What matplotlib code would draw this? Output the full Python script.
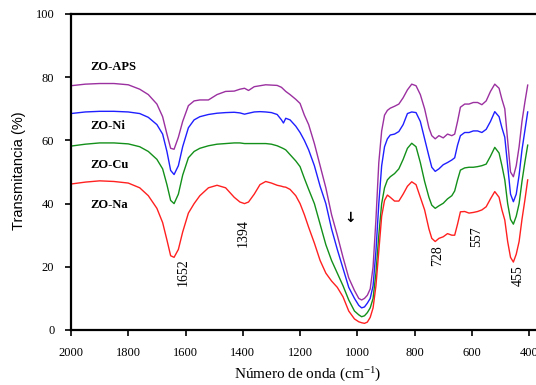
"""FTIR spectra of ZO samples (ZO-APS, ZO-Ni, ZO-Cu, ZO-Na)."""
import matplotlib
matplotlib.use('Agg')
import matplotlib.pyplot as plt

plt.rcParams['mathtext.fontset'] = 'custom'
plt.rcParams['mathtext.rm'] = 'Liberation Serif'
plt.rcParams['mathtext.it'] = 'Liberation Serif:italic'

# wavenumber grid (cm-1), shared by all four spectra
wn = [2000, 1950, 1900, 1850, 1800, 1760, 1730, 1700, 1680, 1665, 1652, 1640, 1625, 1610,
      1590, 1570, 1550, 1520, 1490, 1460, 1430, 1410, 1394, 1380, 1360, 1340, 1320, 1300,
      1280, 1265, 1258, 1250, 1235, 1215, 1200, 1185, 1170, 1150, 1130, 1110, 1090, 1070,
      1050, 1030, 1010, 995, 985, 975, 965, 955, 945, 935, 925, 915, 905, 895, 885, 870,
      855, 840, 825, 810, 795, 780, 765, 750, 740, 728, 715, 700, 685, 670, 660, 650,
      640, 625, 610, 595, 580, 565, 550, 535, 520, 505, 495, 485, 475, 465, 455, 445,
      435, 425, 415, 405]

zo_aps = [77.3, 77.8, 78.0, 78.0, 77.6, 76.2, 74.5, 71.5, 67.5, 62.0, 57.5, 57.2, 61.0, 66.0,
          71.0, 72.5, 72.8, 72.8, 74.5, 75.5, 75.6, 76.2, 76.5, 75.8, 77.0, 77.3, 77.6, 77.5,
          77.4, 76.8, 76.2, 75.5, 74.5, 73.0, 71.7, 68.0, 65.0, 59.0, 52.0, 45.0, 36.5, 30.0,
          23.0, 16.5, 12.5, 10.0, 9.5, 10.0, 11.0, 13.0, 20.0, 35.0, 53.0, 63.0, 68.0, 69.5,
          70.2, 70.8, 71.5, 73.5, 76.0, 77.8, 77.3, 74.5, 70.0, 64.0, 61.5, 60.5, 61.5, 60.8,
          62.0, 61.5, 62.0, 66.0, 70.5, 71.5, 71.5, 72.0, 72.0, 71.3, 72.5, 75.5, 77.8, 76.5,
          73.0, 70.0, 60.0, 50.0, 48.5, 52.0, 58.0, 66.0, 72.0, 77.5]

zo_ni = [68.5, 69.0, 69.2, 69.2, 69.0, 68.5, 67.3, 65.0, 62.0, 56.5, 50.5, 49.2, 52.0, 58.0,
         64.0, 66.5, 67.5, 68.2, 68.6, 68.8, 68.9, 68.7, 68.3, 68.6, 69.0, 69.1, 69.0, 68.8,
         68.2, 66.5, 65.5, 67.0, 66.5, 64.5, 62.5, 60.0, 57.0, 52.0, 45.5, 40.0, 32.0, 25.5,
         19.5, 13.5, 10.0, 7.8, 7.0, 7.3, 8.5, 10.0, 14.0, 25.0, 40.0, 52.0, 58.0, 60.5,
         61.7, 62.0, 62.8, 65.0, 68.5, 69.0, 68.8, 66.0, 60.5, 55.0, 51.5, 50.2, 51.0, 52.3,
         53.0, 53.8, 54.5, 58.5, 61.5, 62.5, 62.5, 63.0, 63.0, 62.5, 63.5, 66.0, 69.1, 67.5,
         64.0, 61.0, 52.0, 43.0, 40.6, 43.0, 49.0, 57.0, 63.0, 69.0]

zo_cu = [58.2, 58.8, 59.2, 59.2, 58.9, 58.0, 56.5, 54.0, 51.0, 46.0, 41.0, 40.0, 43.0, 49.0,
         54.5, 56.5, 57.5, 58.3, 58.8, 59.0, 59.2, 59.2, 59.0, 59.0, 59.0, 59.0, 59.0, 58.8,
         58.3, 57.7, 57.4, 57.0, 55.5, 53.5, 51.7, 48.0, 44.5, 40.0, 33.5, 27.0, 22.0, 18.0,
         14.0, 9.5, 6.0, 4.8, 4.2, 4.5, 5.5, 7.0, 10.0, 18.0, 30.0, 40.0, 45.0, 47.5,
         48.5, 49.5, 51.0, 54.0, 57.5, 59.1, 58.0, 53.0, 47.0, 42.0, 39.5, 38.5, 39.3, 40.1,
         41.5, 42.5, 44.0, 47.5, 50.6, 51.3, 51.5, 51.5, 51.7, 52.0, 52.5, 55.0, 57.8, 56.0,
         52.0, 47.5, 40.0, 35.0, 33.5, 36.0, 40.0, 47.0, 53.0, 58.5]

zo_na = [46.2, 46.8, 47.2, 47.0, 46.5, 45.0, 42.5, 38.5, 34.0, 28.5, 23.5, 23.0, 25.5, 31.0,
         37.0, 40.0, 42.5, 45.0, 45.8, 45.0, 42.0, 40.5, 40.0, 40.5, 43.0, 46.0, 47.0, 46.5,
         45.8, 45.5, 45.3, 45.2, 44.5, 42.5, 40.0, 36.5, 32.5, 27.5, 22.0, 18.0, 15.5, 13.5,
         10.5, 6.0, 3.5, 2.6, 2.3, 2.1, 2.5, 4.0, 7.0, 14.0, 25.0, 36.0, 41.0, 42.7,
         42.0, 40.8, 40.8, 43.0, 45.5, 46.9, 46.0, 42.0, 38.0, 32.0, 29.0, 28.0, 29.0, 29.5,
         30.5, 30.0, 30.0, 33.5, 37.4, 37.5, 37.0, 37.2, 37.5, 38.0, 39.0, 41.5, 43.8, 42.0,
         38.0, 34.8, 28.0, 23.0, 21.5, 24.0, 28.0, 35.0, 41.0, 47.5]

series = [('ZO-APS', zo_aps, '#9B30A0'), ('ZO-Ni', zo_ni, '#1F1FFF'),
          ('ZO-Cu', zo_cu, '#13901A'), ('ZO-Na', zo_na, '#FF2020')]

# labels: (name, x, y)
label_pos = [('ZO-APS', 1934, 83.2), ('ZO-Ni', 1934, 64.6), ('ZO-Cu', 1934, 52.2), ('ZO-Na', 1934, 39.6)]
peaks = [('1652', 1609, 18.4), ('1394', 1399, 30.7), ('728', 718, 23.4), ('557', 582, 29.4), ('455', 439, 17.1)]

fig = plt.figure(figsize=(5.36, 3.85), dpi=100)
ax = fig.add_axes([71/536, 55/385, 465/536, 316/385])

for name, vals, col in series:
    ax.plot(wn, vals, color=col, lw=1.0)

SERIF = 'Liberation Serif'
for name, x, y in label_pos:
    ax.text(x, y, name, fontsize=9, fontweight='bold', family=SERIF, ha='left', va='center')
for txt, x, y in peaks:
    ax.text(x, y, txt, fontsize=10, family=SERIF, rotation=90, ha='center', va='center')
ax.text(1025, 35.4, '\u2193', fontsize=10, fontweight='bold', family=['DejaVu Sans'],
        ha='center', va='center')

ax.set_xlim(2000, 376)
ax.set_ylim(0, 100)
ax.set_xticks(range(2000, 399, -200))
ax.set_yticks(range(0, 101, 20))
ax.tick_params(direction='out', length=4, width=1.2, labelsize=9, pad=8)
for lab in ax.get_xticklabels() + ax.get_yticklabels():
    lab.set_family(SERIF)
for s in ['left', 'bottom', 'top']:
    ax.spines[s].set_linewidth(1.6)
ax.spines['right'].set_visible(False)

fig.text(19/536, 1 - 171/385, 'Transmitancia (%)', rotation=90, fontsize=10.5,
         family='Liberation Sans', ha='center', va='center')
fig.text(308/536, 1 - 375/385, 'Número de onda (cm$^{-1}$)', fontsize=11,
         family=SERIF, ha='center', va='center')

fig.savefig('out.png', dpi=100)
